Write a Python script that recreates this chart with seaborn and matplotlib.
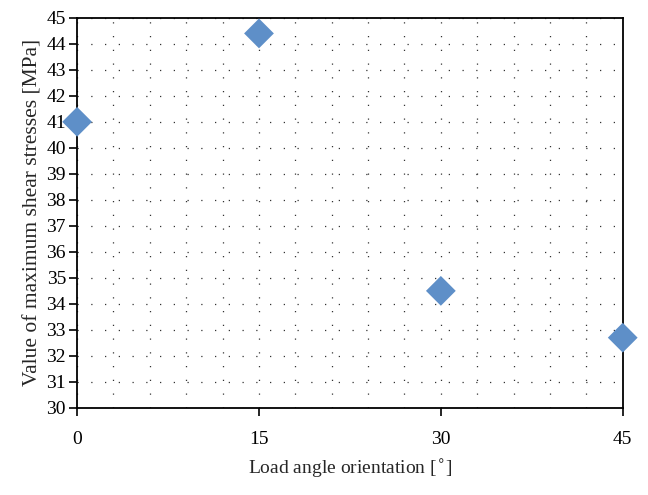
import pandas as pd
import numpy as np
import seaborn as sns
import matplotlib.pyplot as plt
from matplotlib.ticker import MultipleLocator

# values
load_angle = [0, 15, 30, 45]
max_shear = [41.0, 44.4, 34.5, 32.7]

df = pd.DataFrame({'angle': load_angle, 'stress': max_shear})

sns.set_style('ticks')
plt.rcParams['font.family'] = ['Liberation Serif', 'DejaVu Serif']

fig = plt.figure(figsize=(6.48, 4.95), dpi=100)
ax = fig.add_axes([0.119, 0.176, 0.842, 0.788])

sns.scatterplot(data=df, x='angle', y='stress', ax=ax, marker='D', s=230,
                color='#5E8FC8', edgecolor='none', zorder=5, clip_on=False)

ax.set_xlim(0, 45)
ax.set_ylim(30, 45)
ax.set_xticks([0, 15, 30, 45])
ax.xaxis.set_minor_locator(MultipleLocator(3))
ax.yaxis.set_major_locator(MultipleLocator(1))

dots = dict(color='#333333', linestyle=(0, (1, 10)), linewidth=0.9)
ax.grid(axis='x', which='both', **dots)
ax.grid(axis='y', which='major', **dots)

ax.tick_params(axis='both', which='major', direction='out', length=6, width=1.2,
               labelsize=14, color='black', labelcolor='black')
ax.tick_params(axis='y', which='major', pad=2)
ax.tick_params(axis='x', which='major', pad=11)
ax.tick_params(axis='x', which='minor', length=0)

for sp in ax.spines.values():
    sp.set_color('black')
    sp.set_linewidth(1.3)

ax.set_xlabel('Load angle orientation [$^{\\circ}$]', fontsize=14, labelpad=7)
ax.set_ylabel('Value of maximum shear stresses [MPa]', fontsize=15.5, labelpad=3)

fig.savefig('out.png', dpi=100)
